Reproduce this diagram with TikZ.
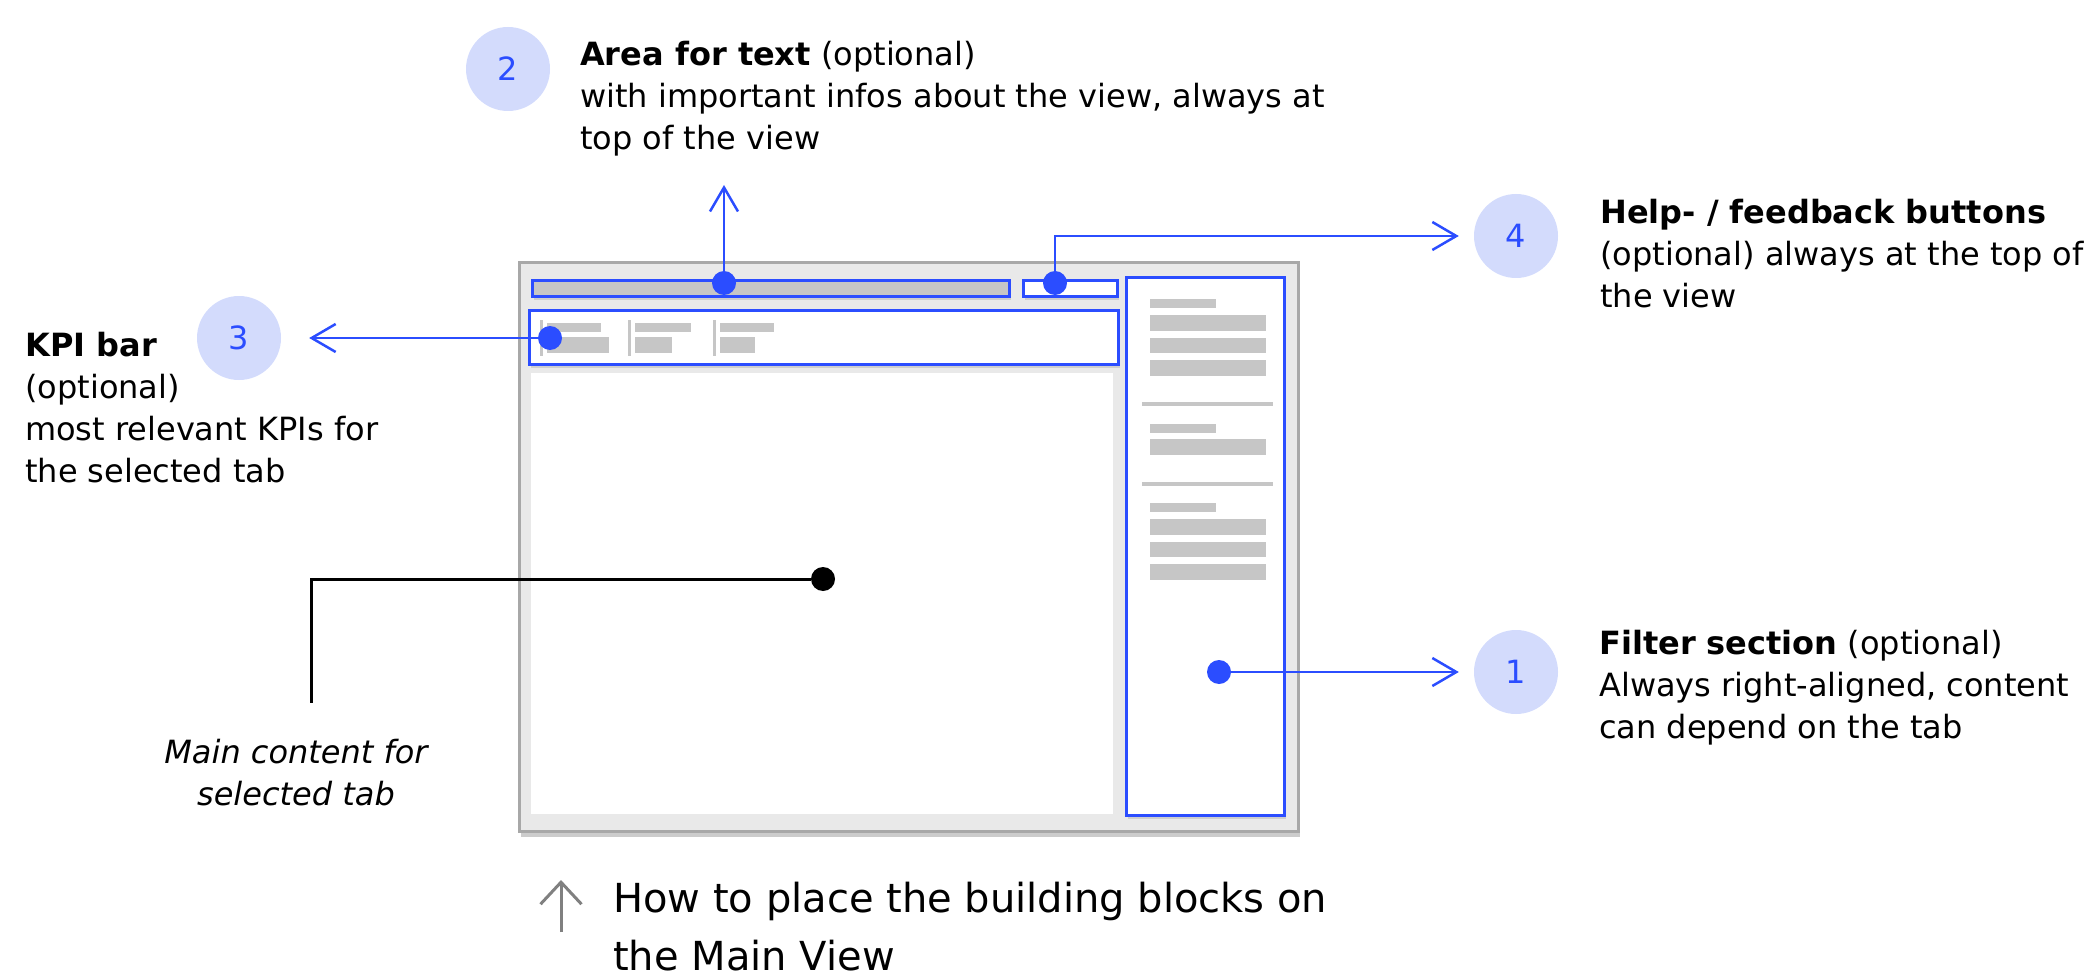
\documentclass[tikz,border=0pt]{standalone}
\usepackage{fontspec}
\setmainfont{DejaVu Sans}
\usepackage{xcolor}
\usetikzlibrary{arrows.meta,shadows}

\definecolor{uiblue}{HTML}{2B4DFF}
\definecolor{uililac}{HTML}{D3DBFC}
\definecolor{uibar}{HTML}{C6C6C6}
\definecolor{uiframe}{HTML}{E9E9E9}
\definecolor{uiedge}{HTML}{A8A8A8}

\begin{document}
\begin{tikzpicture}[x=1pt,y=-1pt,
    numdisc/.style={circle,fill=uililac,text=uiblue,minimum size=84pt,inner sep=0pt,font=\fontsize{32}{42}\selectfont},
    note/.style={anchor=base west,align=left,inner sep=0pt,font=\fontsize{32}{42}\selectfont},
    bluebox/.style={draw=uiblue,line width=3pt,drop shadow={shadow xshift=1.5pt,shadow yshift=-4pt,opacity=.25}},
    greybar/.style={fill=uibar},
    pindot/.style={circle,fill=#1,minimum size=24pt,inner sep=0pt},
    callout/.style={uiblue,line width=2.5pt,-{Straight Barb[length=24pt,width=28pt]}}]
  \useasboundingbox (0,0) rectangle (2090,976);

  % main view
  \draw[uiedge,fill=uiframe,line width=3pt,drop shadow={shadow xshift=2pt,shadow yshift=-6pt,opacity=.4}]
    (519,263) rectangle (1298,831);
  \fill[white] (531,373) rectangle (1113,814);
  \draw[bluebox,fill=uibar] (532,281) rectangle (1009,296);
  \draw[bluebox,fill=white] (1023,281) rectangle (1117,296);
  \draw[bluebox,fill=white] (529,310) rectangle (1118,364);
  \draw[bluebox,fill=white] (1126,278) rectangle (1284,815);

  % kpi bar
  \foreach \x/\a/\b in {541/601/609,629/691/672,714/774/755} {
    \fill[uibar] (\x-1.5,320) rectangle (\x+1.5,356);
    \fill[uibar] (\x+6,323) rectangle (\a,332);
    \fill[uibar] (\x+6,337) rectangle (\b,353);
  }

  % filter section
  \foreach \y in {299,424,503} \fill[uibar] (1150,\y) rectangle (1216,\y+9);
  \foreach \y in {315,337.5,360,439,519,541.5,564} \fill[uibar] (1150,\y) rectangle (1266,\y+15.5);
  \foreach \y in {402,482} \fill[uibar] (1142,\y) rectangle (1273,\y+4);

  % pins
  \node[pindot=uiblue] (p2) at (724,283) {};
  \node[pindot=uiblue] (p4) at (1055,283) {};
  \node[pindot=uiblue] (p3) at (550,338) {};
  \node[pindot=uiblue] (p1) at (1219,672) {};
  \node[pindot=black] (pm) at (823,579) {};

  % numbers
  \node[numdisc] (c2) at (508,69) {2};
  \node[numdisc] (c3) at (239,338) {3};
  \node[numdisc] (c4) at (1516,236) {4};
  \node[numdisc] (c1) at (1516,672) {1};

  \coordinate (e2) at (724,185);
  \coordinate (em) at (311,703);
  \draw[callout] (p2) -- (e2);
  \draw[callout,shorten >=15pt] (p4) |- (c4);
  \draw[callout,shorten >=28pt] (p3) -- (c3);
  \draw[callout,shorten >=15pt] (p1) -- (c1);
  \draw[line width=3pt] (pm) -| (em);

  % texts (base = last line)
  \node[note] (t2) at (580,150) {\textbf{Area for text} (optional)\\with important infos about the view, always at\\top of the view};
  \node[note] (t4) at (1600,307) {\textbf{Help- / feedback buttons}\\(optional) always at the top of\\the view};
  \node[note] (t3) at (25,482) {\textbf{KPI bar}\\(optional)\\most relevant KPIs for\\the selected tab};
  \node[note] (t1) at (1599,738) {\textbf{Filter section} (optional)\\Always right-aligned, content\\can depend on the tab};
  \node[note,anchor=base,align=center,font=\fontsize{32}{42}\selectfont\itshape] (tm) at (296,805) {Main content for\\selected tab};

  % caption
  \coordinate (ab) at (561,932);
  \coordinate (at) at (561,880);
  \draw[gray,line width=3pt,-{Straight Barb[length=22pt,width=41pt]}] (ab) -- (at);
  \node[note,font=\fontsize{40}{58}\selectfont] (cap) at (613,970) {How to place the building blocks on\\the Main View};
\end{tikzpicture}
\end{document}
